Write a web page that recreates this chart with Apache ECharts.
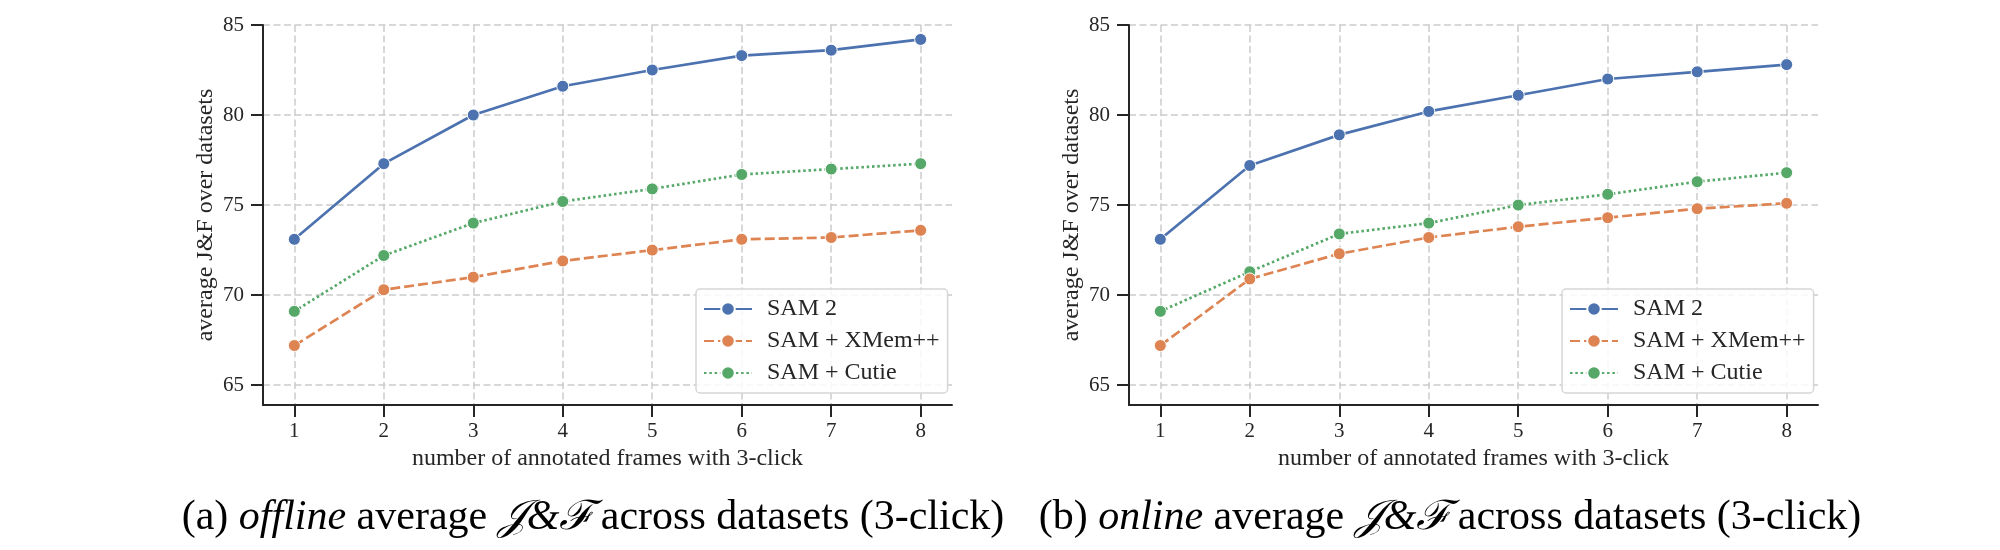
<!DOCTYPE html>
<html>
<head>
<meta charset="utf-8">
<script src="https://cdn.jsdelivr.net/npm/echarts@6/dist/echarts.min.js"></script>
<style>
  html, body { margin: 0; padding: 0; background: #fff; }
  #chart { width: 2000px; height: 550px; }
</style>
</head>
<body>
<div id="chart"></div>
<script>
// number of annotated frames
const frames = [1, 2, 3, 4, 5, 6, 7, 8];
const xTicks = [1, 2, 3, 4, 5, 6, 7, 8];
const yTicks = [65, 70, 75, 80, 85];
const seriesNames = ['SAM 2', 'SAM + XMem++', 'SAM + Cutie'];

// (a) offline
const offlineSam2 = [73.1, 77.3, 80.0, 81.6, 82.5, 83.3, 83.6, 84.2];
const offlineXMem = [67.2, 70.3, 71.0, 71.9, 72.5, 73.1, 73.2, 73.6];
const offlineCutie = [69.1, 72.2, 74.0, 75.2, 75.9, 76.7, 77.0, 77.3];

// (b) online
const onlineSam2 = [73.1, 77.2, 78.9, 80.2, 81.1, 82.0, 82.4, 82.8];
const onlineXMem = [67.2, 70.9, 72.3, 73.2, 73.8, 74.3, 74.8, 75.1];
const onlineCutie = [69.1, 71.3, 73.4, 74.0, 75.0, 75.6, 76.3, 76.8];

const captions = [
    '(a) {i|offline} average {m|𝒥&ℱ} across datasets (3-click)',
    '(b) {i|online} average {m|𝒥&ℱ} across datasets (3-click)'
];

const FONT = 'Liberation Serif';
const INK = '#262626';
const colors = ['#4c72b0', '#dd8452', '#55a868'];
const lineTypes = ['solid', [10, 4], [2.5, 2.8]];

function zip(xs, ys) {
    return xs.map(function (x, i) { return [x, ys[i]]; });
}

function makeXAxis(idx) {
    return {
        type: 'value',
        gridIndex: idx,
        min: 0.65,
        max: 8.35,
        name: 'number of annotated frames with 3-click',
        nameLocation: 'middle',
        nameGap: 42,
        nameTextStyle: { fontFamily: FONT, fontSize: 24, color: INK },
        axisLine: { lineStyle: { color: INK, width: 2 } },
        axisTick: { show: true, length: 12, lineStyle: { color: INK, width: 2 }, customValues: xTicks },
        axisLabel: { fontFamily: FONT, fontSize: 21, color: INK, margin: 16, customValues: xTicks },
        splitLine: { show: true, lineStyle: { color: '#cccccc', width: 1.5, type: [7, 3.5] } }
    };
}

function makeYAxis(idx) {
    return {
        type: 'value',
        gridIndex: idx,
        min: 63.9,
        max: 85,
        name: 'average J&F over datasets',
        nameLocation: 'middle',
        nameGap: 45,
        nameTextStyle: { fontFamily: FONT, fontSize: 24, color: INK },
        axisLine: { show: true, lineStyle: { color: INK, width: 2 } },
        axisTick: { show: true, length: 12, lineStyle: { color: INK, width: 2 }, customValues: yTicks },
        axisLabel: { fontFamily: FONT, fontSize: 21, color: INK, margin: 19, customValues: yTicks },
        splitLine: { show: true, lineStyle: { color: '#cccccc', width: 1.5, type: [7, 3.5] } }
    };
}

function makeSeries(idx, data) {
    return data.map(function (vals, k) {
        return {
            name: seriesNames[k],
            type: 'line',
            xAxisIndex: idx,
            yAxisIndex: idx,
            data: zip(frames, vals),
            symbol: 'circle',
            symbolSize: 12,
            z: 10 - k,
            lineStyle: { color: colors[k], width: 2.7, type: lineTypes[k] },
            itemStyle: { color: colors[k], borderColor: '#fff', borderWidth: 1 }
        };
    });
}

function makeLegend(left) {
    return {
        orient: 'vertical',
        left: left,
        top: 289,
        data: seriesNames,
        itemWidth: 48,
        itemHeight: 17,
        itemGap: 8,
        padding: [8, 8, 8, 7],
        backgroundColor: 'rgba(255,255,255,0.85)',
        borderColor: '#d6d6d6',
        borderWidth: 1.5,
        borderRadius: 4,
        textStyle: { fontFamily: FONT, fontSize: 24, color: INK, padding: [0, 0, 0, 10] }
    };
}

function makeCaption(text, center) {
    return {
        text: text,
        left: center,
        top: 492,
        textAlign: 'center',
        textStyle: {
            fontFamily: FONT,
            fontSize: 42,
            fontWeight: 'normal',
            color: '#000',
            rich: {
                i: { fontFamily: FONT, fontSize: 42, fontStyle: 'italic', color: '#000' },
                m: { fontFamily: FONT, fontSize: 42, fontStyle: 'italic', color: '#000' }
            }
        }
    };
}

let chart = echarts.init(document.getElementById('chart'), null, { renderer: 'canvas' });
let option = {
    backgroundColor: '#fff',
    animation: false,
    title: [makeCaption(captions[0], 588), makeCaption(captions[1], 1445)],
    grid: [
        { left: 263, right: 1048, top: 25, bottom: 145, containLabel: false },
        { left: 1129, right: 182, top: 25, bottom: 145, containLabel: false }
    ],
    xAxis: [makeXAxis(0), makeXAxis(1)],
    yAxis: [makeYAxis(0), makeYAxis(1)],
    legend: [makeLegend(696), makeLegend(1562)],
    series: []
};
option.series = makeSeries(0, [offlineSam2, offlineXMem, offlineCutie])
    .concat(makeSeries(1, [onlineSam2, onlineXMem, onlineCutie]));
chart.setOption(option);
</script>
</body>
</html>
